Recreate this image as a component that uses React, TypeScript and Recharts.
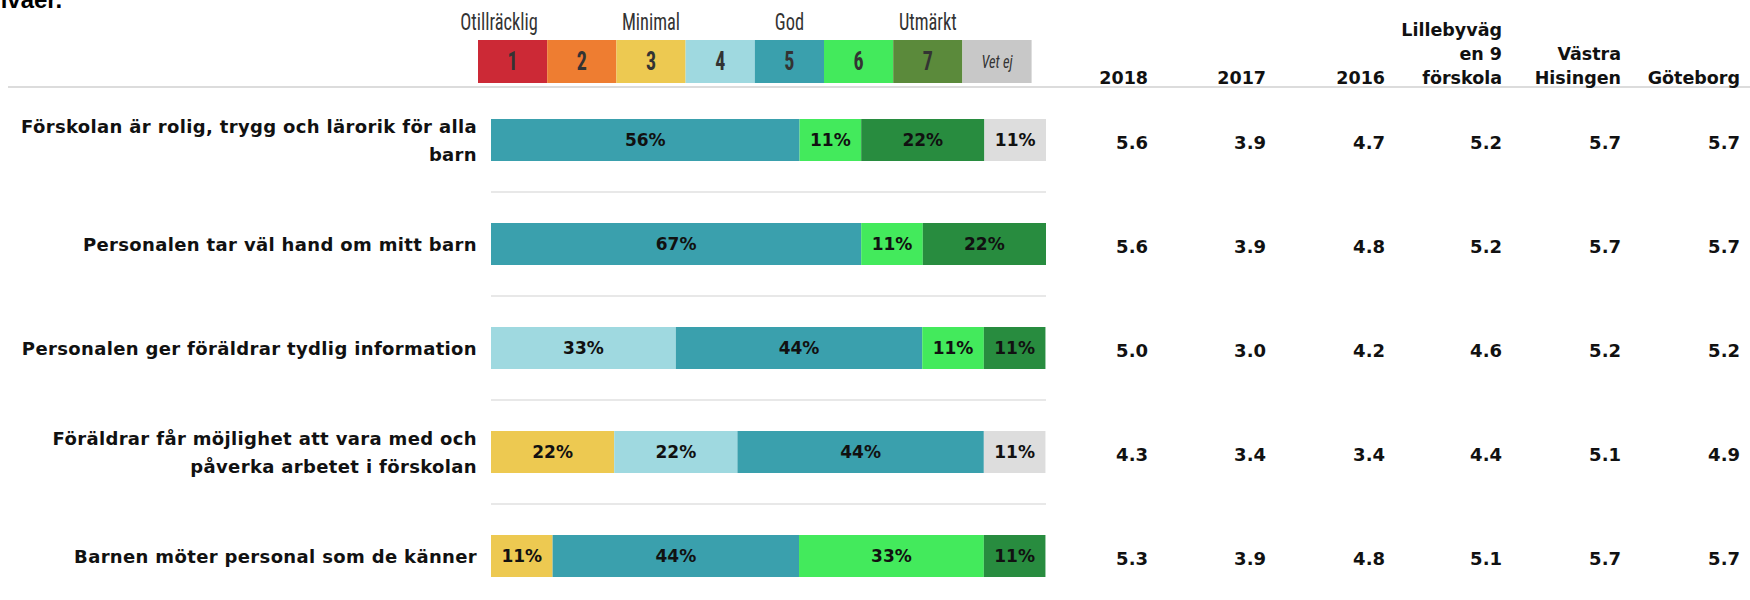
import { BarChart, Bar, XAxis, YAxis, LabelList } from "recharts";

const categories = [
  "Förskolan är rolig, trygg och lärorik för alla\nbarn",
  "Personalen tar väl hand om mitt barn",
  "Personalen ger föräldrar tydlig information",
  "Föräldrar får möjlighet att vara med och\npåverka arbetet i förskolan",
  "Barnen möter personal som de känner",
];

// share of answers per grade (%)
const grade1 = [0, 0, 0, 0, 0];
const grade2 = [0, 0, 0, 0, 0];
const grade3 = [0, 0, 0, 22.2, 11.1];
const grade4 = [0, 0, 33.3, 22.2, 0];
const grade5 = [55.6, 66.7, 44.4, 44.4, 44.4];
const grade6 = [11.1, 11.1, 11.1, 0, 33.3];
const grade7 = [22.2, 22.2, 11.1, 0, 11.1];
const vetEj = [11.1, 0, 0, 11.1, 0];

// average scores table
const tableHeaders = [
  ["2018"],
  ["2017"],
  ["2016"],
  ["Lillebyväg", "en 9", "förskola"],
  ["Västra", "Hisingen"],
  ["Göteborg"],
];
const avg2018 = [5.6, 5.6, 5.0, 4.3, 5.3];
const avg2017 = [3.9, 3.9, 3.0, 3.4, 3.9];
const avg2016 = [4.7, 4.8, 4.2, 3.4, 4.8];
const avgSchool = [5.2, 5.2, 4.6, 4.4, 5.1];
const avgVastraHisingen = [5.7, 5.7, 5.2, 5.1, 5.7];
const avgGoteborg = [5.7, 5.7, 5.2, 4.9, 5.7];

const legendKeys = ["1", "2", "3", "4", "5", "6", "7", "Vet ej"];
const legendLabels = ["Otillräcklig", "Minimal", "God", "Utmärkt"];

const tableColumns = [avg2018, avg2017, avg2016, avgSchool, avgVastraHisingen, avgGoteborg];

const series = [
  { key: "g1", values: grade1, fill: "#cc2936" },
  { key: "g2", values: grade2, fill: "#ee7d31" },
  { key: "g3", values: grade3, fill: "#edc951" },
  { key: "g4", values: grade4, fill: "#9fd9e0" },
  { key: "g5", values: grade5, fill: "#3aa0ad" },
  { key: "g6", values: grade6, fill: "#43ea5c" },
  { key: "g7", values: grade7, fill: "#288c3f" },
  { key: "vetEj", values: vetEj, fill: "#dddddd" },
];
const legendColors = ["#cc2936", "#ee7d31", "#edc951", "#9fd9e0", "#3aa0ad", "#43ea5c", "#5b8a3b", "#c8c8c8"];

const data = categories.map((name, i) => {
  const row: Record<string, any> = { name };
  series.forEach((s) => (row[s.key] = s.values[i]));
  return row;
});

const FONT = "'DejaVu Sans', Verdana, sans-serif";
const NARROW = "'Liberation Sans Narrow', 'Roboto Condensed', 'Open Sans', sans-serif";

const PLOT_LEFT = 491;
const PLOT_RIGHT = 1046;
const COL_RIGHT = [1148, 1266, 1385, 1502, 1621, 1740];
const LEGEND_X = 478;
const LEGEND_W = 69.2;

const CategoryTick = (props: any) => {
  const { x, y, payload, index } = props;
  const lines = String(payload.value).split("\n");
  const lh = 27.5;
  const half = payload.offset || 52;
  return (
    <g>
      <text
        x={x}
        y={y}
        textAnchor="end"
        dominantBaseline="central"
        fontFamily={FONT}
        fontWeight="bold"
        fontSize={18}
        letterSpacing={0.35}
        fill="#111"
      >
        {lines.map((l, i) => (
          <tspan key={i} x={x} dy={i === 0 ? (-(lines.length - 1) * lh) / 2 : lh}>
            {l}
          </tspan>
        ))}
      </text>
      {index < categories.length - 1 && (
        <line x1={PLOT_LEFT} x2={PLOT_RIGHT} y1={y + half} y2={y + half} stroke="#e0e0e0" strokeWidth={1.5} />
      )}
    </g>
  );
};

const TableTick = (props: any) => {
  const { y, index } = props;
  return (
    <g>
      {tableColumns.map((col, c) => (
        <text
          key={c}
          x={COL_RIGHT[c]}
          y={y + 2}
          textAnchor="end"
          dominantBaseline="central"
          fontFamily={FONT}
          fontWeight="bold"
          fontSize={18}
          fill="#111"
        >
          {col[index].toFixed(1)}
        </text>
      ))}
    </g>
  );
};

const renderPct = (props: any) => {
  const { x, y, width, height, value } = props;
  if (!value) return null;
  return (
    <text
      x={x + width / 2}
      y={y + height / 2}
      textAnchor="middle"
      dominantBaseline="central"
      fontFamily={FONT}
      fontWeight="bold"
      fontSize={17}
      fill="#111"
    >
      {Math.round(value)}%
    </text>
  );
};

export default function App() {
  return (
    <div
      style={{
        position: "fixed",
        top: 0,
        left: 0,
        width: 1750,
        height: 600,
        overflow: "hidden",
        background: "#fff",
      }}
    >
      <BarChart
        layout="vertical"
        width={1750}
        height={620}
        data={data}
        margin={{ top: 88, right: 0, bottom: 12, left: 0 }}
        barSize={42}
      >
        <XAxis type="number" domain={[0, 100]} hide />
        <YAxis
          type="category"
          dataKey="name"
          width={PLOT_LEFT}
          axisLine={false}
          tickLine={false}
          tickSize={0}
          tickMargin={14}
          interval={0}
          tick={<CategoryTick />}
        />
        <YAxis
          yAxisId="table"
          orientation="right"
          type="category"
          dataKey="name"
          width={1750 - PLOT_RIGHT}
          axisLine={false}
          tickLine={false}
          interval={0}
          tick={<TableTick />}
        />
        {series.map((s) => (
          <Bar key={s.key} dataKey={s.key} stackId="a" fill={s.fill} isAnimationActive={false}>
            <LabelList dataKey={s.key} content={renderPct} />
          </Bar>
        ))}
      </BarChart>

      <svg
        width={1750}
        height={600}
        style={{ position: "absolute", top: 0, left: 0, pointerEvents: "none" }}
      >
        <text x={-14} y={8} fontFamily="'Liberation Sans', Arial, sans-serif" fontWeight="bold" fontSize={24} fill="#000">
          nivåer.
        </text>

        {legendLabels.map((l, i) => (
          <text
            key={l}
            transform={`translate(${i === 0 ? 499 : LEGEND_X + LEGEND_W * (i * 2 + 0.5)},30) scale(0.8,1)`}
            textAnchor="middle"
            fontFamily={NARROW}
            fontSize={23}
            fill="#333"
          >
            {l}
          </text>
        ))}

        {legendKeys.map((k, i) => (
          <g key={k}>
            <rect x={LEGEND_X + i * LEGEND_W} y={40} width={LEGEND_W} height={43} fill={legendColors[i]} />
            <text
              transform={`translate(${LEGEND_X + i * LEGEND_W + LEGEND_W / 2},62) scale(0.8,1)`}
              textAnchor="middle"
              dominantBaseline="central"
              fontFamily={NARROW}
              fontWeight={i === 7 ? "normal" : "bold"}
              fontStyle={i === 7 ? "italic" : "normal"}
              fontSize={i === 7 ? 18 : 25}
              fill="#333"
            >
              {k}
            </text>
          </g>
        ))}

        <line x1={8} x2={1750} y1={87} y2={87} stroke="#dcdcdc" strokeWidth={2} />

        {tableHeaders.map((lines, c) => (
          <text
            key={c}
            textAnchor="end"
            fontFamily={FONT}
            fontWeight="bold"
            fontSize={17.5}
            fill="#111"
          >
            {lines.map((l, i) => (
              <tspan key={i} x={COL_RIGHT[c]} y={84 - (lines.length - 1 - i) * 24}>
                {l}
              </tspan>
            ))}
          </text>
        ))}
      </svg>
    </div>
  );
}
